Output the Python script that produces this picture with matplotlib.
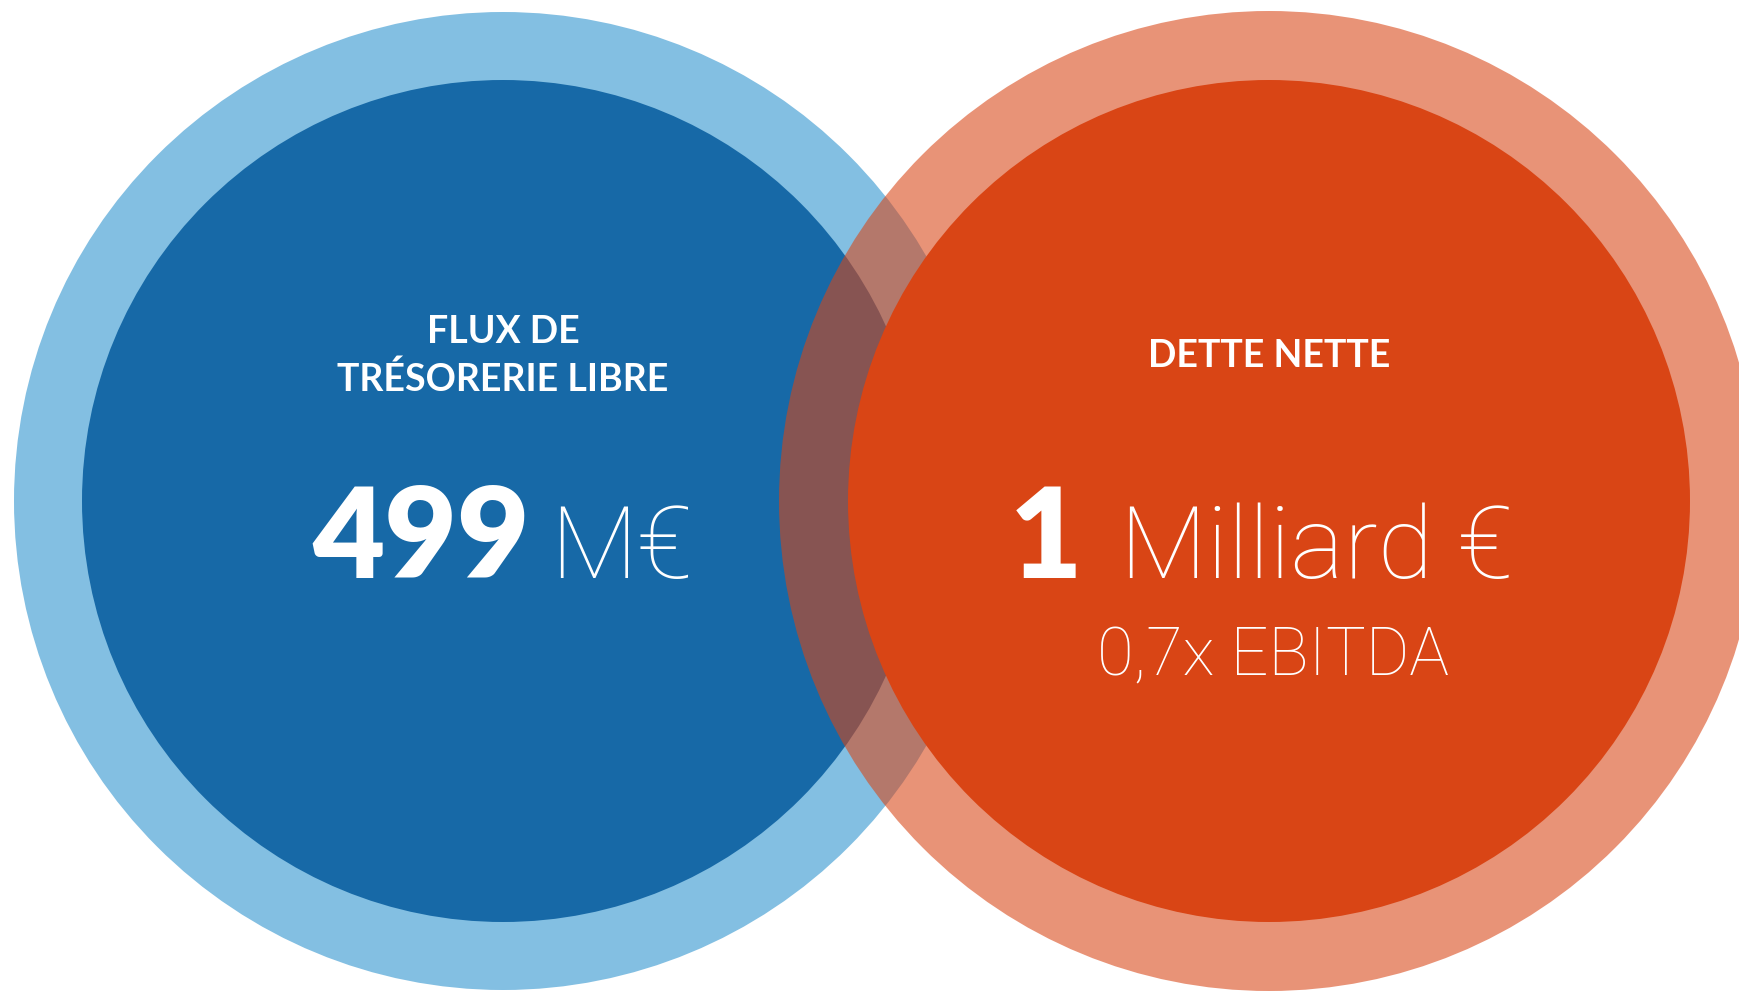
import matplotlib
matplotlib.use("Agg")
import matplotlib.pyplot as plt
from matplotlib.patches import Circle

# chart content
titles = ["FLUX DE\nTRÉSORERIE LIBRE", "DETTE NETTE"]
values = ["499", "1"]
units = ["M€", "Milliard €"]
notes = ["", "0,7x EBITDA"]

# two circle groups: (center x, center y, outer r, inner r)
circles = [(503, 501, 489, 421), (1269, 501, 490, 421)]
inner_colors = ["#1769a7", "#d94515"]
outer_colors = ["#83bfe2", "#d94515"]
outer_alpha = [1.0, 0.58]

W, H = 1739, 991
fig = plt.figure(figsize=(W / 100, H / 100), dpi=100)
ax = fig.add_axes([0, 0, 1, 1])
ax.set_xlim(0, W)
ax.set_ylim(H, 0)
ax.set_aspect("equal")
ax.axis("off")

z = 1
for (cx, cy, ro, ri), ci, co, a in zip(circles, inner_colors, outer_colors, outer_alpha):
    ax.add_patch(Circle((cx, cy), ro, facecolor=co, alpha=a, lw=0, zorder=z))
    ax.add_patch(Circle((cx, cy), ri, facecolor=ci, lw=0, zorder=z + 1))
    z += 2

bold_font = "Lato"
thin_font = "Roboto"
title_y = [356, 356]
num_right = [530, 1082]
unit_left = [550, 1120]

for i, (cx, cy, ro, ri) in enumerate(circles):
    ax.text(cx, title_y[i], titles[i], color="white", fontsize=27, fontweight="bold",
            family=bold_font, ha="center", va="center", linespacing=1.45, zorder=10)
    ax.text(num_right[i], 578, values[i], color="white", fontsize=90, fontweight="heavy",
            family=bold_font, ha="right", va="baseline", zorder=10)
    ax.text(unit_left[i], 578, units[i], color="white", fontsize=73, fontweight="light",
            family=thin_font, ha="left", va="baseline", zorder=10)
    if notes[i]:
        ax.text(cx + 4, 675, notes[i], color="white", fontsize=48, fontweight="light",
                family=thin_font, ha="center", va="baseline", zorder=10)

fig.savefig("out.png", dpi=100)
